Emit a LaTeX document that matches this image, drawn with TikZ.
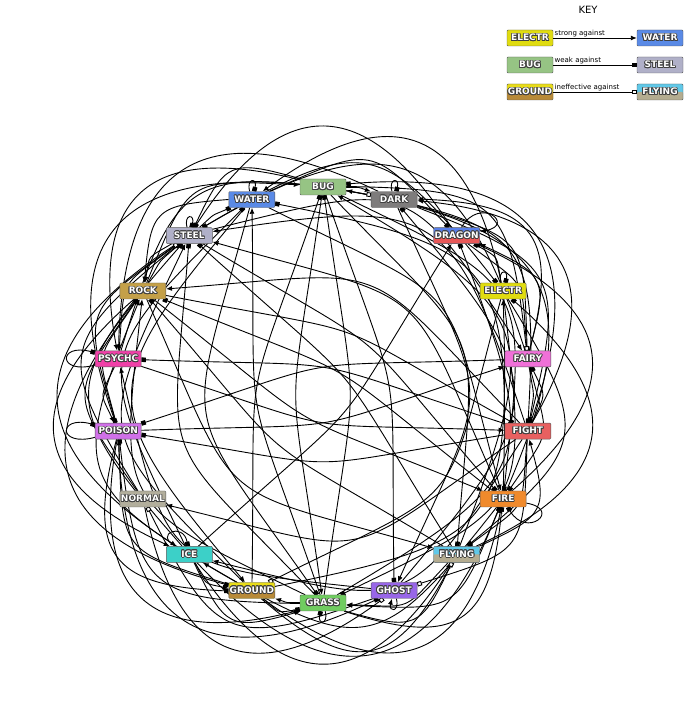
\documentclass[tikz,border=0pt]{standalone}
\usepackage{fontspec}
\setsansfont{DejaVu Sans}
\usepackage[copies]{contour}
\contourlength{0.8pt}
\contournumber{12}
\usetikzlibrary{arrows.meta,backgrounds}

\definecolor{cnormal}{HTML}{B2AE9C}
\definecolor{cfire}{HTML}{F08A2C}
\definecolor{cwater}{HTML}{5A8AE6}
\definecolor{celectr}{HTML}{E0DC10}
\definecolor{cgrass}{HTML}{70CC60}
\definecolor{cice}{HTML}{3CD0C8}
\definecolor{cfight}{HTML}{E86060}
\definecolor{cpoison}{HTML}{D070E8}
\definecolor{cground}{HTML}{E8DC18}
\definecolor{cgroundlow}{HTML}{B88A38}
\definecolor{cflying}{HTML}{60C8E8}
\definecolor{cflyinglow}{HTML}{B4AC90}
\definecolor{cpsychc}{HTML}{F040A8}
\definecolor{cbug}{HTML}{96C484}
\definecolor{crock}{HTML}{C4A048}
\definecolor{cghost}{HTML}{9866E8}
\definecolor{cdragon}{HTML}{5A80E8}
\definecolor{cdragonlow}{HTML}{E85858}
\definecolor{cdark}{HTML}{7E7C7C}
\definecolor{csteel}{HTML}{B0B0C8}
\definecolor{cfairy}{HTML}{F070D8}

\newcommand{\tname}[1]{\contour{black!75}{#1}}
% bend for an edge from #1 to #2 (angles on the ring)
\newcommand{\ringbend}[2]{%
  \pgfmathsetmacro\dd{mod(\csname ang#2\endcsname-\csname ang#1\endcsname+540,360)-180}%
  \pgfmathsetmacro\bb{sign(\dd)*50*sin(abs(\dd))+8}}

\tikzset{
  ptype/.style={draw=black!65, fill=#1, rounded corners=1pt, minimum width=46pt,
    minimum height=16pt, inner sep=0pt, text=white,
    font=\sffamily\bfseries\fontsize{9}{9}\selectfont},
  twotone/.style 2 args={ptype=#1, path picture={
    \fill[#2] (path picture bounding box.west) rectangle (path picture bounding box.south east);}},
  se/.style={line width=0.9pt, -{Latex[length=6pt,width=5pt]}},
  nve/.style={line width=0.9pt, -{Square[length=4.5pt,width=4.5pt]}},
  imm/.style={line width=0.9pt, -{Square[length=4.5pt,width=4.5pt,fill=white]}},
  keytext/.style={font=\sffamily\fontsize{7}{7}\selectfont, inner sep=1pt}
}

\begin{document}
\begin{tikzpicture}[x=1pt, y=1pt]
 \useasboundingbox (0,0) rectangle (688,711);

 \foreach \n/\ang in {bug/90, water/110, steel/130, rock/150, psychc/170, poison/190,
   normal/210, ice/230, ground/250, grass/270, ghost/290, flying/310, fire/330,
   fight/350, fairy/10, electr/30, dragon/50, dark/70}
   {\expandafter\xdef\csname ang\n\endcsname{\ang}}

 % types on the ring
 \begin{scope}[shift={(323,316)}]
 \node[ptype=cbug] (bug) at (90:208) {\tname{BUG}};
 \node[ptype=cwater] (water) at (110:208) {\tname{WATER}};
 \node[ptype=csteel] (steel) at (130:208) {\tname{STEEL}};
 \node[ptype=crock] (rock) at (150:208) {\tname{ROCK}};
 \node[ptype=cpsychc] (psychc) at (170:208) {\tname{PSYCHC}};
 \node[ptype=cpoison] (poison) at (190:208) {\tname{POISON}};
 \node[ptype=cnormal] (normal) at (210:208) {\tname{NORMAL}};
 \node[ptype=cice] (ice) at (230:208) {\tname{ICE}};
 \node[twotone={cground}{cgroundlow}] (ground) at (250:208) {\tname{GROUND}};
 \node[ptype=cgrass] (grass) at (270:208) {\tname{GRASS}};
 \node[ptype=cghost] (ghost) at (290:208) {\tname{GHOST}};
 \node[twotone={cflying}{cflyinglow}] (flying) at (310:208) {\tname{FLYING}};
 \node[ptype=cfire] (fire) at (330:208) {\tname{FIRE}};
 \node[ptype=cfight] (fight) at (350:208) {\tname{FIGHT}};
 \node[ptype=cfairy] (fairy) at (10:208) {\tname{FAIRY}};
 \node[ptype=celectr] (electr) at (30:208) {\tname{ELECTR}};
 \node[twotone={cdragon}{cdragonlow}] (dragon) at (50:208) {\tname{DRAGON}};
 \node[ptype=cdark] (dark) at (70:208) {\tname{DARK}};
 \end{scope}

 \begin{scope}[on background layer, looseness=1.6]
 % strong against
 \foreach \a/\b in {fire/grass, fire/ice, fire/bug, fire/steel, water/fire, water/ground,
   water/rock, electr/water, electr/flying, grass/water, grass/ground, grass/rock,
   ice/grass, ice/ground, ice/flying, ice/dragon, fight/normal, fight/ice, fight/rock,
   fight/dark, fight/steel, poison/grass, poison/fairy, ground/fire, ground/electr,
   ground/poison, ground/rock, ground/steel, flying/grass, flying/fight, flying/bug,
   psychc/fight, psychc/poison, bug/grass, bug/psychc, bug/dark, rock/fire, rock/ice,
   rock/flying, rock/bug, ghost/psychc, dark/psychc, dark/ghost, steel/ice, steel/rock,
   steel/fairy, fairy/fight, fairy/dragon, fairy/dark}
   {\ringbend{\a}{\b}\draw[se] (\a) to[bend right=\bb] (\b);}

 % weak against
 \foreach \a/\b in {normal/rock, normal/steel, fire/water, fire/rock, fire/dragon,
   water/grass, water/dragon, electr/grass, electr/dragon, grass/fire, grass/poison,
   grass/flying, grass/bug, grass/dragon, grass/steel, ice/fire, ice/water, ice/steel,
   fight/poison, fight/flying, fight/psychc, fight/bug, fight/fairy, poison/ground,
   poison/rock, poison/ghost, ground/grass, ground/bug, flying/electr, flying/rock,
   flying/steel, psychc/steel, bug/fire, bug/fight, bug/poison, bug/flying, bug/ghost,
   bug/steel, bug/fairy, rock/fight, rock/ground, rock/steel, ghost/dark, dragon/steel,
   dark/fight, dark/fairy, steel/fire, steel/water, steel/electr, fairy/fire,
   fairy/poison, fairy/steel}
   {\ringbend{\a}{\b}\draw[nve] (\a) to[bend right=\bb] (\b);}

 % ineffective against
 \foreach \a/\b in {normal/ghost, electr/ground, fight/ghost, poison/steel,
   ground/flying, psychc/dark, ghost/normal, dragon/fairy}
   {\ringbend{\a}{\b}\draw[imm] (\a) to[bend right=\bb] (\b);}

 % self loops
 \draw[nve] (water) to[loop above] (water);
 \draw[nve] (steel) to[loop above] (steel);
 \draw[nve] (dark) to[loop above] (dark);
 \draw[se] (dragon) to[out=60,in=10,looseness=5] (dragon);
 \draw[nve] (electr) to[loop above] (electr);
 \draw[nve] (psychc) to[loop left] (psychc);
 \draw[nve] (poison) to[loop left] (poison);
 \draw[nve] (ice) to[out=150,in=100,looseness=5] (ice);
 \draw[nve] (fire) to[out=-10,in=-60,looseness=5] (fire);
 \draw[nve] (grass) to[loop below] (grass);
 \draw[se] (ghost) to[loop below] (ghost);
 \end{scope}

 % key
 \node[font=\sffamily\fontsize{10}{10}\selectfont] (keytitle) at (588,701) {KEY};
 \node[ptype=celectr] (keyelectr) at (530,673) {\tname{ELECTR}};
 \node[ptype=cwater] (keywater) at (660,673) {\tname{WATER}};
 \node[ptype=cbug] (keybug) at (530,646) {\tname{BUG}};
 \node[ptype=csteel] (keysteel) at (660,646) {\tname{STEEL}};
 \node[twotone={cground}{cgroundlow}] (keyground) at (530,619) {\tname{GROUND}};
 \node[twotone={cflying}{cflyinglow}] (keyflying) at (660,619) {\tname{FLYING}};
 \draw[se] (keyelectr) -- node[keytext, above right, pos=0] {strong against} (keywater);
 \draw[nve] (keybug) -- node[keytext, above right, pos=0] {weak against} (keysteel);
 \draw[imm] (keyground) -- node[keytext, above right, pos=0] {ineffective against} (keyflying);
\end{tikzpicture}
\end{document}
